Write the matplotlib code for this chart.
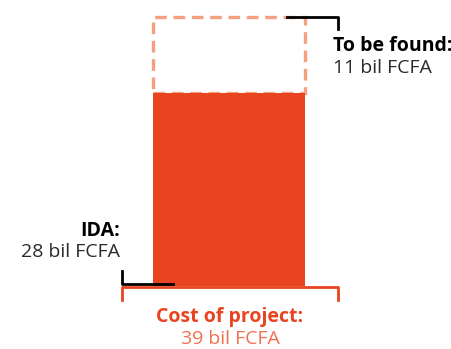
import matplotlib
matplotlib.use("Agg")
import matplotlib.pyplot as plt
from matplotlib.patches import Rectangle

# values in bil FCFA
ida = 28
to_be_found = 11
total = ida + to_be_found

labels = ["IDA:", "To be found:", "Cost of project:"]
amounts = [ida, to_be_found, total]

red = "#e8441f"
light = "#f5a07e"

plt.rcParams["font.family"] = ["Open Sans", "DejaVu Sans"]

fig = plt.figure(figsize=(4.52, 3.49), dpi=100)
ax = fig.add_axes([0, 0, 1, 1])
k = 6.9
ax.set_xlim(0, 452)
ax.set_ylim((286 - 349) / k, 286 / k)
ax.axis("off")

# bars
ax.add_patch(Rectangle((153, ida), 152, to_be_found, fill=False,
                       edgecolor=light, lw=2.4, ls=(0, (3.5, 2)), zorder=1))
ax.bar(229, ida, width=152, color=red, bottom=0, zorder=2)

# black brackets
ax.plot([122, 122, 173], [2.2, 0.3, 0.3], color="black", lw=2, zorder=3)
ax.plot([287, 338, 338], [total, total, total - 1.7], color="black", lw=2, zorder=3)

# orange bracket under bar
ax.plot([122, 122, 338, 338], [-2, -0.2, -0.2, -2], color=red, lw=2)

# texts
fs = 14
ax.text(120, (286 - 231) / k, labels[0], ha="right", va="center",
        fontsize=fs, fontweight="bold", color="black")
ax.text(120, (286 - 252) / k, f"{amounts[0]} bil FCFA", ha="right", va="center",
        fontsize=fs, color="#2a2a2a")
ax.text(333, (286 - 46) / k, labels[1], ha="left", va="center",
        fontsize=fs, fontweight="bold", color="black")
ax.text(333, (286 - 68) / k, f"{amounts[1]} bil FCFA", ha="left", va="center",
        fontsize=fs, color="#2a2a2a")
ax.text(230, (286 - 317) / k, labels[2], ha="center", va="center",
        fontsize=fs, fontweight="bold", color=red)
ax.text(230, (286 - 339) / k, f"{amounts[2]} bil FCFA", ha="center", va="center",
        fontsize=fs, color="#f07050")

fig.savefig("out.png", dpi=100)
